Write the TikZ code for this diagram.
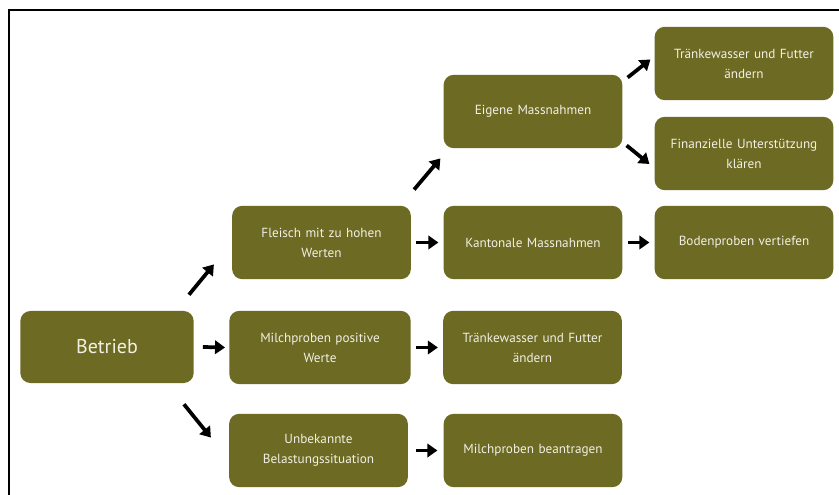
\documentclass[tikz,border=0pt]{standalone}
\usepackage{fontspec}
\setmainfont{PT Sans}
\usepackage{xcolor}
\usepackage{tikz}
\usetikzlibrary{arrows.meta}
\definecolor{oliv}{HTML}{6D6A24}
\definecolor{hell}{HTML}{F2F0E4}

\begin{document}
\begin{tikzpicture}[x=0.75pt,y=-0.75pt,
	kasten/.style={fill=oliv,rounded corners=7.5pt,minimum width=134pt,minimum height=55pt,
		text width=130pt,align=center,text=hell,font=\fontsize{9.9}{15}\selectfont,inner sep=0pt},
	pfeil/.style={line width=2.8pt,-{Triangle[length=7.5pt,width=10pt]}}]
	\useasboundingbox (0,0) rectangle (839,495);
	% 绘制边框
	\draw[line width=0.8pt] (9,495) -- (9,10) -- (839,10);
	% 绘制节点
	\node[kasten,minimum width=129pt,minimum height=54pt,font=\fontsize{15}{18}\selectfont] (betrieb) at (107,347) {Betrieb};
	\node[kasten] (fleisch) at (321.5,242.5) {Fleisch mit zu hohen\\Werten};
	\node[kasten,minimum width=136pt] (milch) at (320,347.5) {Milchproben positive\\Werte};
	\node[kasten] (unbek) at (318.5,450.5) {Unbekannte\\Belastungssituation};
	\node[kasten] (eigene) at (533,111.5) {Eigene Massnahmen};
	\node[kasten] (kanton) at (533,242.5) {Kantonale Massnahmen};
	\node[kasten] (traenkeB) at (532.5,347.5) {Tränkewasser und Futter\\ändern};
	\node[kasten] (beantr) at (533,450.5) {Milchproben beantragen};
	\node[kasten] (traenkeA) at (744,63.5) {Tränkewasser und Futter\\ändern};
	\node[kasten] (finanz) at (744,153.5) {Finanzielle Unterstützung\\klären};
	\node[kasten] (boden) at (744,242.5) {Bodenproben vertiefen};
	% 绘制箭头
	\draw[pfeil] ([shift={(-5,-16)}]betrieb.north east) -- ([shift={(-18,-15)}]fleisch.south west);
	\draw[pfeil] ([shift={(9,0)}]betrieb.east) -- ([shift={(-4,0)}]milch.west);
	\draw[pfeil] ([shift={(-10,21)}]betrieb.south east) -- ([shift={(-18,24)}]unbek.north west);
	\draw[pfeil] ([shift={(3,-16)}]fleisch.north east) -- ([shift={(-3,10)}]eigene.south west);
	\draw[pfeil] ([shift={(5,0)}]fleisch.east) -- ([shift={(-5,0)}]kanton.west);
	\draw[pfeil] ([shift={(5,0)}]milch.east) -- ([shift={(-5,0)}]traenkeB.west);
	\draw[pfeil] ([shift={(8,0)}]unbek.east) -- ([shift={(-6,0)}]beantr.west);
	\draw[pfeil] ([shift={(5,3)}]eigene.north east) -- ([shift={(-4,-4)}]traenkeA.west);
	\draw[pfeil] ([shift={(4,-3)}]eigene.south east) -- ([shift={(-5,10.5)}]finanz.west);
	\draw[pfeil] ([shift={(5,0)}]kanton.east) -- ([shift={(-5,0)}]boden.west);
\end{tikzpicture}
\end{document}
